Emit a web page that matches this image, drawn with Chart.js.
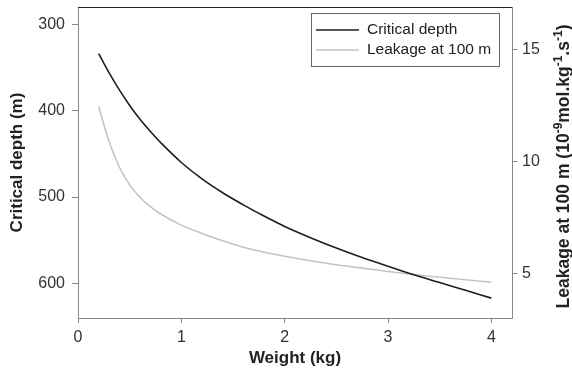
<!DOCTYPE html>
<html>
<head>
<meta charset="utf-8">
<script src="https://cdn.jsdelivr.net/npm/chart.js@4"></script>
<style>
html,body{margin:0;padding:0;background:#fff;}
#wrap{width:572px;height:372px;}
</style>
</head>
<body>
<div id="wrap"><canvas id="c" width="572" height="372"></canvas></div>
<script>
const weights = [0.2,0.3,0.4,0.5,0.6,0.7,0.8,1.0,1.2,1.4,1.6,1.8,2.0,2.25,2.5,2.75,3.0,3.25,3.5,3.75,4.0];
const criticalDepth = [334,356,376,394,410,424,437,460,479,495,509,522,534,547,559,570,580,590,599,608,617];
const leakage = [12.45,10.9,9.75,8.95,8.4,7.98,7.65,7.15,6.78,6.45,6.16,5.94,5.76,5.56,5.38,5.23,5.08,4.94,4.82,4.71,4.6];
const xTicks = [0,1,2,3,4];
const depthTicks = [300,400,500,600];
const leakTicks = [5,10,15];
const rightTitleParts = [
  ['Leakage at 100 m (10', false], ['-9', true], ['mol.kg', false], ['-1', true],
  ['.s', false], ['-1', true], [')', false]
];

const FONT = "'Liberation Sans', Arial, sans-serif";

const extras = {
  id:'extras',
  afterDraw(chart){
    const a = chart.chartArea, ctx = chart.ctx;
    ctx.save();
    ctx.strokeStyle = '#222';
    ctx.lineWidth = 1;
    ctx.beginPath();
    ctx.moveTo(a.left, a.top + 0.5);
    ctx.lineTo(a.right, a.top + 0.5);
    ctx.stroke();
    // legend
    const bx = 311.5, by = 13.5, bw = 188, bh = 53;
    ctx.fillStyle = '#fff';
    ctx.fillRect(bx, by, bw, bh);
    ctx.strokeStyle = '#666';
    ctx.strokeRect(bx, by, bw, bh);
    ctx.font = '15.5px ' + FONT;
    ctx.textBaseline = 'middle';
    ctx.textAlign = 'left';
    chart.data.datasets.forEach((ds, i) => {
      const y = 30 + i * 20;
      ctx.strokeStyle = ds.borderColor;
      ctx.lineWidth = 1.5;
      ctx.beginPath();
      ctx.moveTo(316, y);
      ctx.lineTo(359, y);
      ctx.stroke();
      ctx.fillStyle = '#222';
      ctx.fillText(ds.label, 367, y);
    });
    // right axis title, reading bottom to top, with superscripts
    const big = 'bold 17.5px ' + FONT, small = 'bold 12px ' + FONT;
    let total = 0;
    rightTitleParts.forEach(([t, sup]) => { ctx.font = sup ? small : big; total += ctx.measureText(t).width; });
    ctx.translate(563, (a.top + a.bottom) / 2 + 4);
    ctx.rotate(-Math.PI / 2);
    ctx.fillStyle = '#222';
    ctx.textBaseline = 'alphabetic';
    let x = -total / 2;
    rightTitleParts.forEach(([t, sup]) => {
      ctx.font = sup ? small : big;
      ctx.fillText(t, x, sup ? -1 : 6);
      x += ctx.measureText(t).width;
    });
    ctx.restore();
  }
};

function fixedTicks(vals){
  return function(scale){ scale.ticks = vals.map(v => ({value: v})); };
}
function fitter(prop, size){
  return function(s){
    s[prop] = size;
    s.paddingTop = 0; s.paddingBottom = 0; s.paddingLeft = 0; s.paddingRight = 0;
  };
}

new Chart(document.getElementById('c'), {
  type: 'line',
  data: {
    datasets: [
      { label: 'Critical depth', data: weights.map((w,i)=>({x:w,y:criticalDepth[i]})),
        borderColor: '#1e1e1e', borderWidth: 1.6, pointRadius: 0, yAxisID: 'y',
        tension: 0.35, fill: false },
      { label: 'Leakage at 100 m', data: weights.map((w,i)=>({x:w,y:leakage[i]})),
        borderColor: '#c4c4c4', borderWidth: 1.6, pointRadius: 0, yAxisID: 'y2',
        tension: 0.35, fill: false }
    ]
  },
  options: {
    responsive: false,
    animation: false,
    events: [],
    layout: { padding: { top: 7, left: 0, right: 0, bottom: 0 } },
    plugins: { legend: { display: false }, tooltip: { enabled: false } },
    scales: {
      x: {
        type: 'linear', position: 'bottom', min: 0, max: 4.2,
        afterBuildTicks: fixedTicks(xTicks),
        afterFit: fitter('height', 54),
        grid: { drawOnChartArea: false, tickLength: 5, color: '#888' },
        border: { color: '#888' },
        ticks: { color: '#333', font: { family: FONT, size: 16 }, padding: 5, maxRotation: 0 },
        title: { display: true, text: 'Weight (kg)', color: '#222',
                 font: { family: FONT, size: 17, weight: 'bold' }, padding: { top: 0, bottom: 3 } }
      },
      y: {
        type: 'linear', position: 'left', reverse: true, min: 280, max: 640,
        afterBuildTicks: fixedTicks(depthTicks),
        afterFit: fitter('width', 78),
        grid: { drawOnChartArea: false, tickLength: 6, color: '#888' },
        border: { color: '#888' },
        ticks: { color: '#333', font: { family: FONT, size: 16 }, padding: 7 },
        title: { display: true, text: 'Critical depth (m)', color: '#222',
                 font: { family: FONT, size: 17, weight: 'bold' }, padding: { top: 7, bottom: 0 } }
      },
      y2: {
        type: 'linear', position: 'right', min: 3, max: 16.9,
        afterBuildTicks: fixedTicks(leakTicks),
        afterFit: fitter('width', 60),
        grid: { drawOnChartArea: false, tickLength: 5, color: '#888' },
        border: { color: '#888' },
        ticks: { color: '#333', font: { family: FONT, size: 16 }, padding: 5 },
        title: { display: false }
      }
    }
  },
  plugins: [extras]
});
</script>
</body>
</html>
